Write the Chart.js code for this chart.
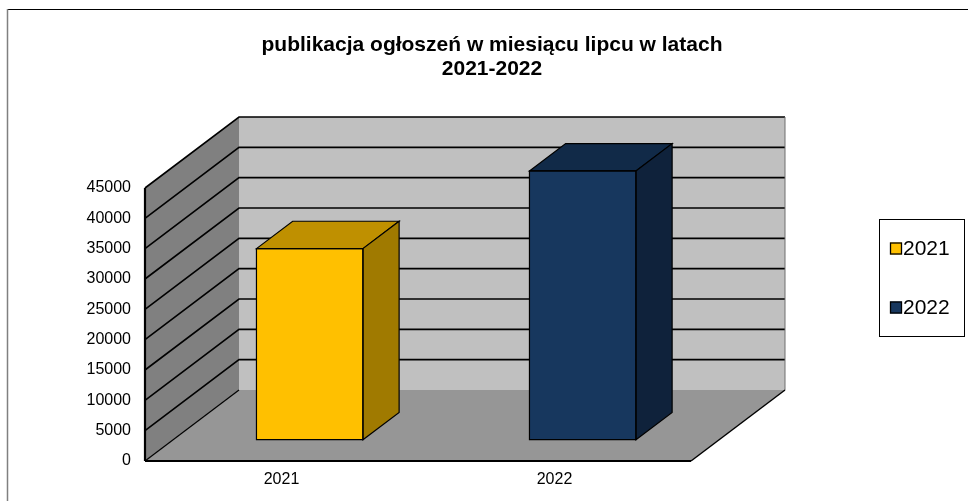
<!DOCTYPE html>
<html><head><meta charset="utf-8">
<script src="https://cdn.jsdelivr.net/npm/chart.js@4/dist/chart.umd.min.js"></script>
<style>html,body{margin:0;padding:0;background:#fff;}canvas{display:block;}</style>
</head><body>
<canvas id="c" width="968" height="501"></canvas>
<script>
// ---- data ----
const categories = ['2021', '2022'];
const values = [31500, 44300];
const legendLabels = ['2021', '2022'];
const yTickValues = [0, 5000, 10000, 15000, 20000, 25000, 30000, 35000, 40000, 45000];
const titleLines = ['publikacja ogłoszeń w miesiącu lipcu w latach', '2021-2022'];

// ---- styles ----
const frontColors = ['#FFC000', '#17375E'];
const topColors = ['#BF9000', '#112A48'];
const sideColors = ['#A07A00', '#0F223B'];
const FONT = '"Liberation Sans", Arial, sans-serif';
const WALL_DX = 94, WALL_DY = 71;    // depth of the 3D box
const BAR_FRONT = 0.30, BAR_DEPTH = 0.385;

function poly(ctx, pts, fill, stroke, lw) {
  ctx.beginPath();
  ctx.moveTo(pts[0][0], pts[0][1]);
  for (let i = 1; i < pts.length; i++) ctx.lineTo(pts[i][0], pts[i][1]);
  ctx.closePath();
  if (fill) { ctx.fillStyle = fill; ctx.fill(); }
  if (stroke) { ctx.strokeStyle = stroke; ctx.lineWidth = lw || 1; ctx.stroke(); }
}
function line(ctx, pts, color, lw) {
  ctx.beginPath();
  ctx.moveTo(pts[0][0], pts[0][1]);
  for (let i = 1; i < pts.length; i++) ctx.lineTo(pts[i][0], pts[i][1]);
  ctx.strokeStyle = color; ctx.lineWidth = lw; ctx.stroke();
}

const threeD = {
  id: 'threeD',
  beforeDraw(chart) {
    const ctx = chart.ctx;
    ctx.save();
    line(ctx, [[8, 9.5], [968, 9.5]], '#000', 1);
    line(ctx, [[7.5, 9], [7.5, 501]], '#808080', 1.5);
    ctx.restore();
  },
  beforeDatasetsDraw(chart) {
    const ctx = chart.ctx, a = chart.chartArea, y = chart.scales.y;
    const L = a.left, R = a.right;
    const T = y.getPixelForValue(yTickValues[yTickValues.length - 1]);
    const B = y.getPixelForValue(0);
    const dx = WALL_DX, dy = WALL_DY;
    ctx.save();
    ctx.lineJoin = 'miter';
    poly(ctx, [[L + dx, T - dy], [R + dx, T - dy], [R + dx, B - dy], [L + dx, B - dy]], '#C0C0C0');
    poly(ctx, [[L, T], [L + dx, T - dy], [L + dx, B - dy], [L, B]], '#808080');
    poly(ctx, [[L, B], [L + dx, B - dy], [R + dx, B - dy], [R, B]], '#969696');
    // grid lines on walls
    yTickValues.forEach(v => {
      if (v === 0) return;
      const yy = y.getPixelForValue(v);
      line(ctx, [[L, yy], [L + dx, yy - dy], [R + dx, yy - dy]], '#000', 1.6);
    });
    line(ctx, [[R + dx, T - dy], [R + dx, B - dy]], '#6e6e6e', 1);
    line(ctx, [[L, B], [L + dx, B - dy]], '#000', 1.2);
    line(ctx, [[R, B], [R + dx, B - dy]], '#000', 1.5);
    line(ctx, [[L, B], [R, B]], '#000', 2.2);
    line(ctx, [[L, T], [L, B]], '#000', 2.2);
    ctx.restore();
  },
  beforeDatasetDraw(chart) {
    chart.ctx.save();
    chart.ctx.translate(BAR_FRONT * WALL_DX, -BAR_FRONT * WALL_DY);
  },
  afterDatasetDraw(chart, args) {
    const ctx = chart.ctx;
    ctx.restore();
    const fx = BAR_FRONT * WALL_DX, fy = BAR_FRONT * WALL_DY;
    const bx = BAR_DEPTH * WALL_DX, by = BAR_DEPTH * WALL_DY;
    ctx.save();
    ctx.lineJoin = 'miter';
    args.meta.data.forEach((el, i) => {
      const l = el.x - el.width / 2 + fx, r = el.x + el.width / 2 + fx;
      const t = el.y - fy, b = el.base - fy;
      poly(ctx, [[l, t], [l + bx, t - by], [r + bx, t - by], [r, t]], topColors[i], '#000', 1.2);
      poly(ctx, [[r, t], [r + bx, t - by], [r + bx, b - by], [r, b]], sideColors[i], '#000', 1.2);
      poly(ctx, [[l, t], [r, t], [r, b], [l, b]], null, '#000', 1.2);
    });
    ctx.restore();
  },
  afterDraw(chart) {
    const ctx = chart.ctx;
    ctx.save();
    ctx.strokeStyle = '#000'; ctx.lineWidth = 1;
    ctx.strokeRect(879.5, 219.5, 85, 117);
    const rows = [248.5, 307.5];
    ctx.font = '21px ' + FONT;
    ctx.textBaseline = 'middle'; ctx.textAlign = 'left';
    legendLabels.forEach((lab, i) => {
      ctx.fillStyle = frontColors[i];
      ctx.fillRect(890, rows[i] - 6, 12, 12);
      ctx.strokeStyle = '#000'; ctx.lineWidth = 1.3;
      ctx.strokeRect(890.5, rows[i] - 5.5, 11, 11);
      ctx.fillStyle = '#000';
      ctx.fillText(lab, 903, rows[i] + 0.5);
    });
    ctx.restore();
  }
};

new Chart(document.getElementById('c'), {
  type: 'bar',
  data: {
    labels: categories,
    datasets: [{
      data: values,
      backgroundColor: frontColors,
      borderWidth: 0,
      categoryPercentage: 1,
      barPercentage: 0.39,
      clip: false
    }]
  },
  options: {
    responsive: false,
    animation: false,
    devicePixelRatio: 1,
    layout: { padding: { left: 16, right: 0, top: 0, bottom: 0 } },
    plugins: {
      legend: { display: false },
      tooltip: { enabled: false },
      title: {
        display: true,
        text: titleLines,
        color: '#000',
        font: { family: FONT, size: 21, weight: 'bold', lineHeight: 1.143 },
        padding: { top: 33, bottom: 107 }
      }
    },
    scales: {
      x: {
        grid: { display: false, drawTicks: false },
        border: { display: false },
        ticks: { color: '#000', font: { family: FONT, size: 16 }, padding: 9, maxRotation: 0 },
        afterFit(s) { s.height = 40; }
      },
      y: {
        min: 0, max: 45000,
        afterBuildTicks(s) { s.ticks = yTickValues.map(v => ({ value: v })); },
        grid: { display: false, drawTicks: false },
        border: { display: false },
        ticks: { color: '#000', font: { family: FONT, size: 16 }, padding: 14, callback: v => String(v) },
        afterFit(s) { s.width = 129; }
      },
      yr: {
        position: 'right',
        display: true,
        grid: { display: false, drawTicks: false },
        border: { display: false },
        ticks: { display: false },
        afterFit(s) { s.width = 277; }
      }
    }
  },
  plugins: [threeD]
});
</script>
</body></html>
